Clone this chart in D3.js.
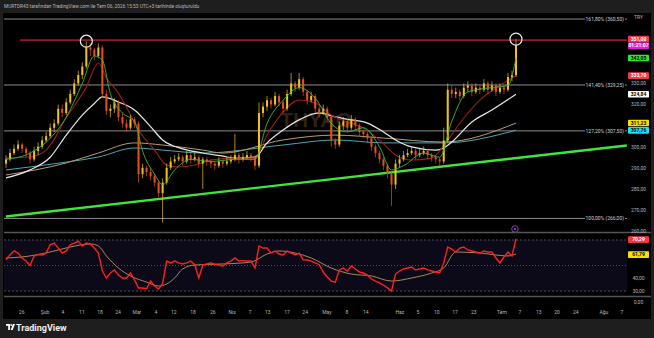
<!DOCTYPE html>
<html><head><meta charset="utf-8">
<script src="https://cdn.jsdelivr.net/npm/d3@7"></script>
<style>html,body{margin:0;padding:0;background:#1e1e1e;overflow:hidden}svg{display:block}</style>
</head><body><svg id="c" width="654" height="338"></svg>
<script>
// ---------- DATA ----------
const firstOpen = 292;
const closes = [294,297,299,301,299,297,294,298,300,303,305,309,311,318,316,321,
325,330,334,338,347,346,343,347,325,317,318,321,314,311,309,313,
311,287,290,288,286,283,278,283,290,293,294,295,293,296,294,295,
292,294,293,292,291,293,292,293,294,296,294,295,296,295,291,316,
319,322,320,324,321,318,325,330,328,332,326,322,324,318,316,318,
314,303,301,310,312,309,313,310,307,306,304,300,297,294,291,287,
282,292,294,296,297,298,296,297,298,296,295,294,293,303,327,325,
326,324,328,329,326,328,327,330,327,329,326,328,327,333,334,348];
const highs = [296,299,301,303,302,300,298,300,302,305,307,311,313,320,320,323,
327,332,336,340,350,349,347,349,348,327,320,323,322,316,313,315,
314,312,292,291,290,287,284,285,292,295,296,297,296,298,297,297,
296,295,295,294,293,295,294,295,296,306,297,297,298,297,296,321,
321,324,323,326,325,322,327,335,331,335,333,327,326,325,319,320,
319,315,304,312,314,313,315,314,311,308,307,305,301,298,295,292,
288,294,296,298,299,300,299,299,300,299,297,296,295,309,330,329,
328,327,330,331,330,330,329,332,331,331,330,330,329,335,336,351];
const lows = [290,293,296,298,297,295,292,293,296,299,302,304,307,310,314,315,
320,324,329,332,337,343,341,342,323,315,314,316,312,309,307,308,
309,283,285,286,284,281,276,264,282,289,292,293,291,292,292,293,
290,280,291,290,289,290,290,291,292,293,292,293,294,293,289,290,
314,317,318,319,319,316,317,324,326,327,324,320,321,316,314,315,
312,300,299,300,308,307,308,308,305,304,302,298,295,292,289,285,
272,280,290,293,295,296,294,295,296,294,293,292,291,292,302,323,
323,322,323,326,324,325,325,326,325,326,324,325,325,326,331,333];
const rsiValues = [54.5,58.5,61.4,59.8,55.9,53.5,50,57.5,58.5,58.2,59.8,66.3,67.6,63.7,59.8,61.4,
66.3,67.6,69.2,65.3,67.6,66.9,63.7,59.8,45.7,40.2,44.1,46.5,42.5,40.2,40.2,44.1,
38.6,32.4,32.4,31.8,37.8,33.9,31.5,36,53.5,52,53.5,52,51.2,52,53.5,50.6,
40.2,50.4,51.2,52,51,50.4,49.6,52,53.5,55.9,53.5,53.8,53.5,53.5,48,65.3,
63.7,63.7,59.8,61.4,59,58.2,61.4,59.8,58.5,59.8,54.5,54.3,53.5,52,50.6,44.9,
41,37.8,37,46.5,48,45.7,49.6,47.3,44.9,44.1,42.5,39.4,37.8,36.3,34.7,32.4,
30,43.3,45.7,47.3,48,48.8,46.5,47.3,48,46.5,45.7,44.9,44.1,52,64.5,62.9,
60.6,63.7,64.5,62.2,61.4,60.6,59.8,61.4,60.6,60.6,55.9,52,56.7,60.6,57.5,71];
// moving averages: [bar index, value] samples
const maWhite = [[0,285.2],[6,289],[11,295],[15,305.5],[19,315],[22,320.5],[24,323.6],[28,321.2],[32,317.4],[36,309.5],[39,303.2],[44,299],[49,297],[54,295.5],[57,294.6],[62,295.1],[65,301.8],[69,307.9],[73,312.7],[78,316],[82,314.1],[86,312.7],[90,311.2],[94,307],[97,303.2],[101,299.9],[107,298.4],[109,299.4],[111,302.2],[116,311.7],[121,317.4],[127,324.8]];
const maRed = [[0,294.6],[6,295.1],[10,298.4],[15,313.6],[20,328.3],[23,339.7],[25,332.6],[28,325.4],[30,318.8],[33,307.9],[37,298.4],[40,291.3],[43,290.4],[47,291.3],[51,293.7],[57,294.6],[62,294.6],[65,305.5],[69,316.4],[73,322.1],[77,320.7],[81,315],[85,311.7],[89,308.9],[93,303.2],[97,296.1],[101,293.7],[106,294.6],[110,303.2],[114,313.6],[118,322.1],[122,327.8],[127,333.7]];
const maGreen = [[0,294],[6,297],[11,304],[15,314],[19,330],[22,343],[24,341],[26,325],[29,316],[32,312],[34,298],[37,287],[39,282],[42,289],[46,294],[51,293],[57,294],[62,294],[65,311],[69,322],[73,328],[77,323],[81,311],[85,307],[89,309],[93,300],[96,289],[99,291],[104,297],[108,295],[111,312],[115,326],[121,328],[125,329],[127,342]];
const maTan = [[0,286.6],[15,292.3],[23,297],[32,301.8],[39,300.8],[49,298.4],[54,297],[69,303.2],[82,305.5],[94,304.1],[109,302.2],[127,311.2]];
const maCyan = [[0,289],[15,292.7],[23,295.1],[32,299.4],[39,298.4],[49,297],[69,300.8],[82,303.2],[94,301.8],[109,301.8],[127,307.8]];
const rsiMa = [[0,55.9],[4,56.7],[11,60.6],[16,64.5],[21,66.9],[23,65.3],[25,57.5],[28,48],[31,41.8],[35,37],[38,33.9],[40,35.5],[42,40.2],[44,47.3],[47,50.4],[54,51.2],[61,52.7],[65,59],[68,61.4],[72,59.8],[76,55.9],[81,48],[86,43.3],[91,41.8],[96,37.8],[101,40.2],[106,44.1],[109,48],[112,60.6],[118,59.8],[125,57.5],[127,59]];
const trendLine = [[0,266.9],[154.6,300.6]];
const resistance = 350.5;
const fibLabels = ["161,80% (360,50)","141,40% (329,25)","127,20% (307,50)","100,00% (266,00)"];
const fibPrices = [360.5,329.25,307.5,266];
const priceTicks = [260,270,280,290,300,310,320,330,340,350];
const rsiTicks = [30,40];
const timeTickIdx = [3.9,9.7,14.2,18.9,23.4,27.9,32.6,37.3,41.8,46.6,51.5,56.3,60.8,65.2,70,74.5,79.9,84.9,89.6,98.1,102.6,107.3,111.8,116.5,123.5,128,132.7,137.2,141.9,148.9,153.4];
const timeTickText = ["26","Şub","4","11","18","24","Mar","4","12","18","26","Nis","7","13","17","24","May","8","14","Haz","5","10","17","23","Tem","7","13","20","24","Ağu","7"];
const priceLabels = [
  {v:351, t:"351,00", bg:"#f23645", fg:"#fff"},
  {v:342.05, t:"342,05", bg:"#2ee62e", fg:"#000"},
  {v:333.7, t:"333,70", bg:"#f23645", fg:"#fff"},
  {v:324.84, t:"324,84", bg:"#ffffff", fg:"#000"},
  {v:311.23, t:"311,23", bg:"#f5e000", fg:"#000"},
  {v:307.76, t:"307,76", bg:"#1ee3f0", fg:"#000"}];
const rsiLabels = [{v:70.29, t:"70,29", bg:"#f23645", fg:"#fff"},{v:58.5, t:"61,79", bg:"#f5e000", fg:"#000"}];

// ---------- LAYOUT ----------
const svg = d3.select("#c");
const L = 4, R = 627, mainTop = 13, mainBot = 232, rsiTop = 233, rsiBot = 296;
const x = d3.scaleLinear().domain([0,127]).range([6,516]);
const y = d3.scaleLinear().domain([260,360]).range([231.1,20.1]);
const yr = d3.scaleLinear().domain([30,70]).range([291,240]);
const font = "Roboto, 'Noto Sans', sans-serif";

svg.append("rect").attr("x",0).attr("y",0).attr("width",654).attr("height",338).attr("fill","#1e1e1e");
svg.append("rect").attr("x",3).attr("y",mainTop).attr("width",648).attr("height",306).attr("fill","#000");
svg.append("text").attr("x",4).attr("y",8).attr("font-size",4.8).attr("fill","#b8b8b8").attr("font-family",font)
  .text("MURTDR43 tarafından TradingView.com ile Tem 06, 2026 15:53 UTC+3 tarihinde oluşturuldu");

const defs = svg.append("defs");
defs.append("clipPath").attr("id","cm").append("rect").attr("x",L).attr("y",mainTop).attr("width",R-L).attr("height",mainBot-mainTop);
defs.append("clipPath").attr("id","cr").append("rect").attr("x",L).attr("y",rsiTop).attr("width",R-L).attr("height",rsiBot-rsiTop);

// watermark
svg.append("text").attr("x",316).attr("y",127).attr("text-anchor","middle").attr("font-size",21).attr("font-weight","bold")
  .attr("font-family","'Liberation Sans', Arial, sans-serif").attr("fill","rgba(140,100,55,0.35)").text("THYAO");

const main = svg.append("g").attr("clip-path","url(#cm)");
fibPrices.forEach((p,i)=>{
  main.append("line").attr("x1",L).attr("x2",R).attr("y1",y(p)).attr("y2",y(p)).attr("stroke","#8c8c8c").attr("stroke-width",1);
});
main.append("line").attr("x1",x(trendLine[0][0])).attr("y1",y(trendLine[0][1])).attr("x2",x(trendLine[1][0])).attr("y2",y(trendLine[1][1]))
  .attr("stroke","#3fe53a").attr("stroke-width",2.4);
main.append("line").attr("x1",20).attr("x2",R).attr("y1",y(resistance)).attr("y2",y(resistance)).attr("stroke","#8e1c2a").attr("stroke-width",1.6);

const line = d3.line().x(d=>x(d[0])).y(d=>y(d[1])).curve(d3.curveMonotoneX);
main.append("path").attr("d",line(maCyan)).attr("fill","none").attr("stroke","#4aa6b8").attr("stroke-width",1);
main.append("path").attr("d",line(maTan)).attr("fill","none").attr("stroke","#b59f6c").attr("stroke-width",1);
main.append("path").attr("d",line(maWhite)).attr("fill","none").attr("stroke","#e8e8e8").attr("stroke-width",1.2);
main.append("path").attr("d",line(maRed)).attr("fill","none").attr("stroke","#9a1e1e").attr("stroke-width",1.1);

const bars = closes.map((c,i)=>({i, o: i===0?firstOpen:closes[i-1], c, h:highs[i], l:lows[i]}));
const up = "#efc416", dn = "#e8501e";
const cg = main.append("g");
cg.selectAll("line").data(bars).join("line")
  .attr("x1",d=>x(d.i)).attr("x2",d=>x(d.i)).attr("y1",d=>y(d.h)).attr("y2",d=>y(d.l))
  .attr("stroke",d=>d.c>=d.o?up:dn).attr("stroke-width",0.7);
cg.selectAll("rect").data(bars).join("rect")
  .attr("x",d=>x(d.i)-1).attr("width",2)
  .attr("y",d=>y(Math.max(d.o,d.c))).attr("height",d=>Math.max(0.8,Math.abs(y(d.o)-y(d.c))))
  .attr("fill",d=>d.c>=d.o?up:dn);
main.append("path").attr("d",line(maGreen)).attr("fill","none").attr("stroke","#43b83a").attr("stroke-width",0.9);

[20,127].forEach(i=>{
  main.append("circle").attr("cx",x(i)).attr("cy",y(highs[i])).attr("r",6).attr("fill","none").attr("stroke","#f0f0f0").attr("stroke-width",1.2);
});
svg.append("circle").attr("cx",x(127)-1).attr("cy",229).attr("r",3.3).attr("fill","none").attr("stroke","#a040c0").attr("stroke-width",0.9);
svg.append("circle").attr("cx",x(127)-1).attr("cy",229).attr("r",1).attr("fill","#a040c0");

fibPrices.forEach((p,i)=>{
  svg.append("rect").attr("x",585).attr("y",y(p)-3).attr("width",40).attr("height",6).attr("fill","#000");
  svg.append("text").attr("x",624).attr("y",y(p)+1.8).attr("text-anchor","end").attr("font-size",5).attr("fill","#cfcfcf")
    .attr("font-family",font).text(fibLabels[i]);
});

svg.append("line").attr("x1",L).attr("x2",651).attr("y1",mainBot+0.5).attr("y2",mainBot+0.5).attr("stroke","#555").attr("stroke-width",1.3);
svg.append("line").attr("x1",L).attr("x2",651).attr("y1",rsiBot+0.5).attr("y2",rsiBot+0.5).attr("stroke","#555").attr("stroke-width",1.3);

const rg = svg.append("g").attr("clip-path","url(#cr)");
rg.append("rect").attr("x",L).attr("y",yr(70)).attr("width",R-L).attr("height",yr(30)-yr(70)).attr("fill","#0c0a19");
[70,50,30].forEach(v=>{
  rg.append("line").attr("x1",L).attr("x2",R).attr("y1",yr(v)).attr("y2",yr(v)).attr("stroke","#6a6d78")
    .attr("stroke-width",0.7).attr("stroke-dasharray",v===50?"1,2":"2,2");
});
const rl = d3.line().x(d=>x(d[0])).y(d=>yr(d[1])).curve(d3.curveMonotoneX);
rg.append("path").attr("d",rl(rsiMa)).attr("fill","none").attr("stroke","#c9a86c").attr("stroke-width",0.8);
rg.append("path").attr("d",d3.line().x((d,i)=>x(i)).y(d=>yr(d))(rsiValues)).attr("fill","none").attr("stroke","#ff1f1f").attr("stroke-width",1.4);

// price axis (ticks hidden where a coloured label sits, as TradingView does)
const ax = 638.5;
const boxYs = priceLabels.map(d=>y(d.v)).concat([y(351)+6.6]);
priceTicks.forEach(p=>{
  const yy = y(p);
  if (boxYs.some(b=>Math.abs(b-yy)<6.2)) return;
  svg.append("text").attr("x",ax).attr("y",yy+1.8).attr("text-anchor","middle").attr("font-size",5).attr("fill","#b2b5be")
    .attr("font-family",font).text(d3.format(".2f")(p).replace(".",","));
});
const rsiBoxYs = rsiLabels.map(d=>yr(d.v));
rsiTicks.forEach(v=>{
  const yy = yr(v);
  if (rsiBoxYs.some(b=>Math.abs(b-yy)<6.2)) return;
  svg.append("text").attr("x",ax).attr("y",yy+1.8).attr("text-anchor","middle").attr("font-size",5).attr("fill","#b2b5be")
    .attr("font-family",font).text(d3.format(".2f")(v).replace(".",","));
});
svg.append("text").attr("x",ax).attr("y",303.5).attr("text-anchor","middle").attr("font-size",5).attr("fill","#b2b5be").attr("font-family",font).text("0,00");
svg.append("text").attr("x",ax).attr("y",18.5).attr("text-anchor","middle").attr("font-size",5).attr("fill","#b2b5be").attr("font-family",font).text("TRY");

function box(yy, t, bg, fg){
  svg.append("rect").attr("x",628).attr("y",yy-3.3).attr("width",21).attr("height",6.6).attr("rx",0.8).attr("fill",bg);
  svg.append("text").attr("x",ax).attr("y",yy+1.8).attr("text-anchor","middle").attr("font-size",5).attr("font-weight","bold")
    .attr("fill",fg).attr("font-family",font).text(t);
}
priceLabels.forEach(d=>box(y(d.v), d.t, d.bg, d.fg));
box(y(351)+6.6, "01:21:07", "#e020d8", "#fff");
rsiLabels.forEach(d=>box(yr(d.v), d.t, d.bg, d.fg));

timeTickIdx.forEach((t,i)=>{
  svg.append("text").attr("x",x(t)).attr("y",314).attr("text-anchor","middle").attr("font-size",5).attr("fill","#b2b5be")
    .attr("font-family",font).text(timeTickText[i]);
});

const lg = svg.append("g").attr("transform","translate(6,324)");
lg.append("rect").attr("x",0).attr("y",0).attr("width",4.5).attr("height",1.8).attr("fill","#fff");
lg.append("rect").attr("x",2.2).attr("y",0).attr("width",1.8).attr("height",6).attr("fill","#fff");
lg.append("circle").attr("cx",5.6).attr("cy",1.1).attr("r",0.9).attr("fill","#fff");
lg.append("path").attr("d","M7,0 L9,0 L6.6,6 L4.6,6 Z").attr("fill","#fff");
svg.append("text").attr("x",16).attr("y",330.5).attr("font-size",9).attr("font-weight","bold").attr("fill","#f0f0f0")
  .attr("font-family",font).text("TradingView");
</script></body></html>
